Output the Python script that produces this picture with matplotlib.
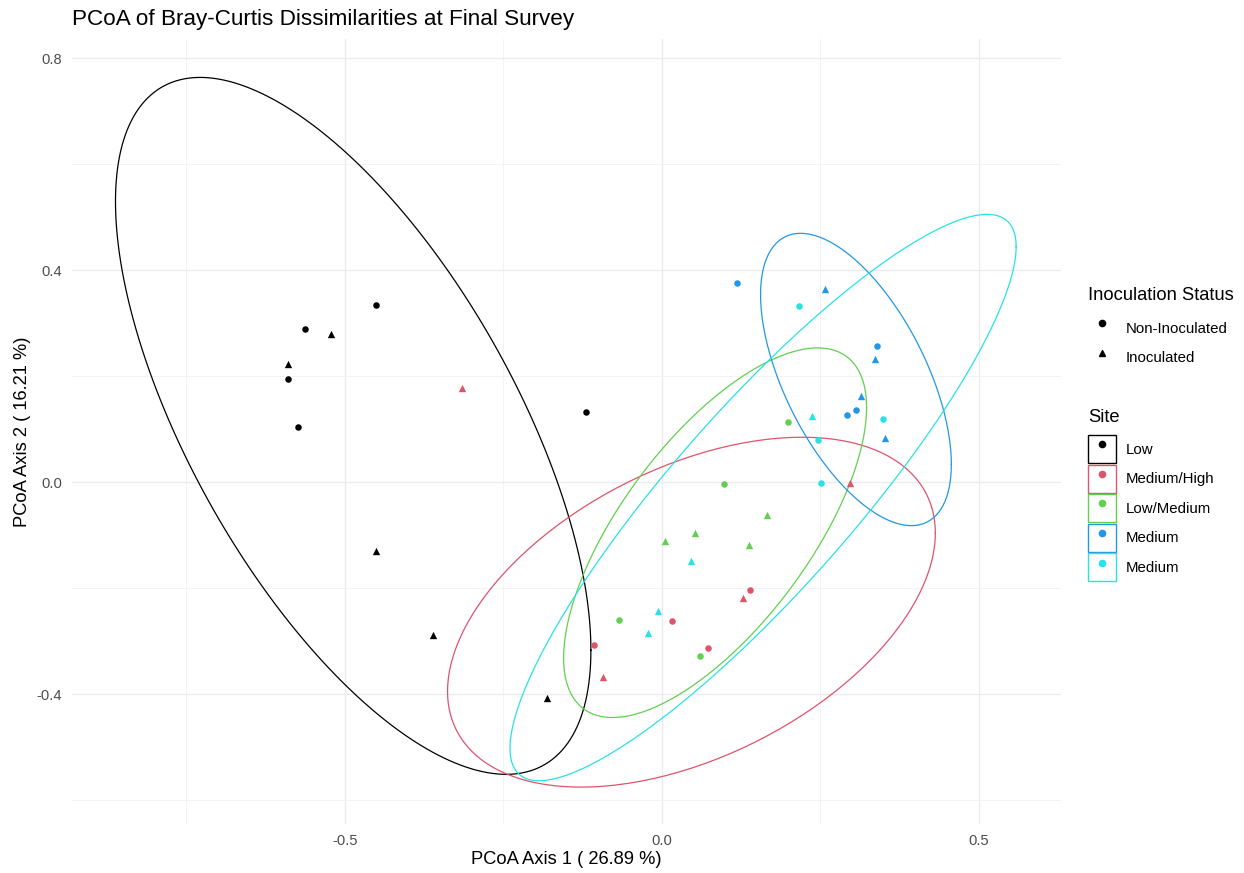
import matplotlib
matplotlib.use("Agg")
import matplotlib.pyplot as plt
import numpy as np
from matplotlib.patches import Patch
from matplotlib.lines import Line2D
from matplotlib.legend_handler import HandlerTuple

plt.rcParams['font.family'] = ['Liberation Sans', 'DejaVu Sans']

# PCoA scores
site_names = ['Low', 'Medium/High', 'Low/Medium', 'Medium', 'Medium']
site_colors = ['#000000', '#DF536B', '#61D04F', '#2297E6', '#28E2E5']

low_x = [-0.450, -0.563, -0.522, -0.590, -0.590, -0.573, -0.120, -0.450, -0.361, -0.181]
low_y = [0.335, 0.288, 0.279, 0.222, 0.194, 0.104, 0.132, -0.130, -0.288, -0.407]
low_inoc = [0, 0, 1, 1, 0, 0, 0, 1, 1, 1]

medhigh_x = [-0.315, 0.297, 0.139, 0.128, 0.016, 0.073, -0.106, -0.093]
medhigh_y = [0.177, -0.002, -0.204, -0.219, -0.262, -0.313, -0.307, -0.368]
medhigh_inoc = [1, 1, 0, 1, 0, 0, 0, 1]

lowmed_x = [0.200, 0.099, 0.166, 0.052, 0.006, 0.137, -0.068, 0.060]
lowmed_y = [0.113, -0.004, -0.062, -0.096, -0.111, -0.119, -0.260, -0.328]
lowmed_inoc = [0, 0, 1, 1, 1, 1, 0, 0]

med1_x = [0.118, 0.257, 0.339, 0.336, 0.314, 0.306, 0.292, 0.352]
med1_y = [0.375, 0.364, 0.256, 0.232, 0.162, 0.136, 0.126, 0.083]
med1_inoc = [0, 1, 0, 1, 1, 0, 0, 1]

med2_x = [0.216, 0.237, 0.349, 0.246, 0.252, 0.046, -0.006, -0.022]
med2_y = [0.332, 0.124, 0.119, 0.079, -0.002, -0.149, -0.243, -0.285]
med2_inoc = [0, 1, 0, 0, 0, 1, 1, 1]

groups = [(low_x, low_y, low_inoc), (medhigh_x, medhigh_y, medhigh_inoc),
          (lowmed_x, lowmed_y, lowmed_inoc), (med1_x, med1_y, med1_inoc),
          (med2_x, med2_y, med2_inoc)]


def cov_trob(x, nu=5, maxit=25, tol=0.01):
    # port of MASS::cov.trob (what ggplot2 stat_ellipse type = "t" uses)
    n, p = x.shape
    loc = x.mean(axis=0)
    w = np.ones(n)
    for _ in range(maxit):
        w0 = w
        X = x - loc
        s = np.sqrt(w / w.sum())[:, None] * X
        _, d, vt = np.linalg.svd(s, full_matrices=False)
        wX = X @ vt.T @ np.diag(1 / d)
        Q = (wX ** 2).sum(axis=1)
        w = (nu + p) / (nu + Q)
        loc = (w[:, None] * x).sum(axis=0) / w.sum()
        if np.all(np.abs(w - w0) < tol):
            break
    sw = np.sqrt(w)[:, None] * X
    return loc, sw.T @ sw / n


def t_ellipse(xs, ys, level=0.95, segments=240):
    pts = np.column_stack([xs, ys])
    center, shape = cov_trob(pts)
    dfd = len(pts) - 1
    qf = dfd / 2 * ((1 - level) ** (-2 / dfd) - 1)  # F(2, dfd) quantile
    radius = np.sqrt(2 * qf)
    ang = np.linspace(0, 2 * np.pi, segments + 1)
    circle = np.column_stack([np.cos(ang), np.sin(ang)])
    L = np.linalg.cholesky(shape)
    return center + radius * circle @ L.T


fig = plt.figure(figsize=(12.44, 8.73), dpi=100)
ax = fig.add_axes([0.0579, 0.0561, 0.7951, 0.8987])

for (xs, ys, inoc), col in zip(groups, site_colors):
    xs, ys, inoc = np.array(xs), np.array(ys), np.array(inoc)
    e = t_ellipse(xs, ys)
    ax.plot(e[:, 0], e[:, 1], color=col, lw=0.9, zorder=2)
    ax.scatter(xs[inoc == 0], ys[inoc == 0], marker='o', s=22, color=col,
               linewidths=0, zorder=3)
    ax.scatter(xs[inoc == 1], ys[inoc == 1], marker='^', s=28, color=col,
               linewidths=0, zorder=3)

ax.set_xlim(-0.93, 0.63)
ax.set_ylim(-0.645, 0.835)
ax.set_xticks([-0.5, 0.0, 0.5])
ax.set_xticklabels(['-0.5', '0.0', '0.5'])
ax.set_yticks([-0.4, 0.0, 0.4, 0.8])
ax.set_yticklabels(['-0.4', '0.0', '0.4', '0.8'])
ax.set_xticks([-0.75, -0.25, 0.25], minor=True)
ax.set_yticks([-0.6, -0.2, 0.2, 0.6], minor=True)
ax.grid(which='major', color='#EBEBEB', lw=1.0)
ax.grid(which='minor', color='#F3F3F3', lw=0.7)
ax.set_axisbelow(True)
for sp in ax.spines.values():
    sp.set_visible(False)
ax.tick_params(which='both', length=0, labelsize=10.6, labelcolor='#4D4D4D', pad=7)

ax.set_xlabel('PCoA Axis 1 ( 26.89 %)', fontsize=13.2, labelpad=2)
ax.set_ylabel('PCoA Axis 2 ( 16.21 %)', fontsize=13.2, labelpad=4)
fig.text(72 / 1244, 1 - 20 / 873, 'PCoA of Bray-Curtis Dissimilarities at Final Survey',
         fontsize=16.2, va='center', ha='left')

# legends (titles drawn as separate text to match the spacing)
lx = 1088 / 1244
common = dict(frameon=False, fontsize=10.8, handlelength=1.87, handleheight=2.5,
              labelspacing=0.1, handletextpad=0.67, borderpad=0, borderaxespad=0,
              loc='upper left')

fig.text(lx, 1 - 295 / 873, 'Inoculation Status', fontsize=13.2, va='center', ha='left')
shape_handles = [Line2D([], [], ls='', marker='o', color='black', ms=4.5),
                 Line2D([], [], ls='', marker='^', color='black', ms=5)]
fig.legend(shape_handles, ['Non-Inoculated', 'Inoculated'],
           bbox_to_anchor=(lx, 1 - 314 / 873), **common)

fig.text(lx, 1 - 417 / 873, 'Site', fontsize=13.2, va='center', ha='left')
site_handles = [(Patch(facecolor='none', edgecolor=c, lw=1.0),
                 Line2D([], [], ls='', marker='o', color=c, ms=4.5))
                for c in site_colors]
fig.legend(site_handles, site_names, bbox_to_anchor=(lx, 1 - 435 / 873),
           handler_map={tuple: HandlerTuple(ndivide=1)}, **common)

fig.savefig('out.png', dpi=100)
